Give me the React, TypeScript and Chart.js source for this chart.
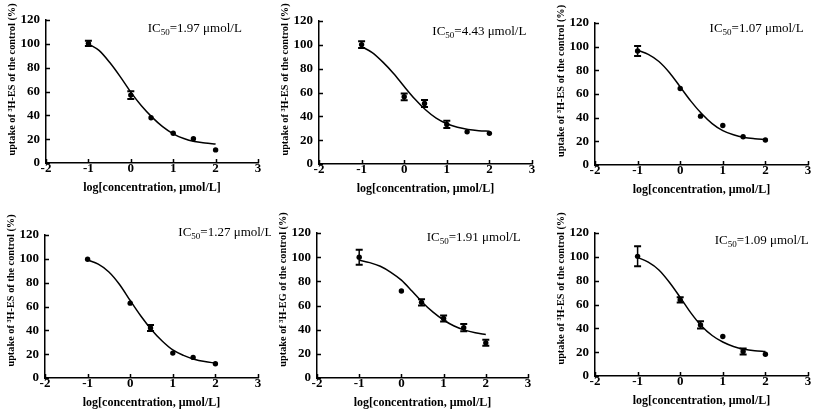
import React, { useEffect, useRef } from "react";
import { Chart, registerables } from "chart.js";

Chart.register(...registerables);

// ---- data ----
const xTicks = [-2, -1, 0, 1, 2, 3];
const yTicks = [0, 20, 40, 60, 80, 100, 120];
const doseLog = [-1, 0, 0.477, 1, 1.477, 2];
const curveLog = [-1, -0.75, -0.5, -0.25, 0, 0.25, 0.5, 0.75, 1, 1.25, 1.5, 1.75, 2];

const meanA = [100.4, 57, 38, 25, 20.3, 11];
const errA = [2.2, 3.2, 0, 0, 0, 0];
const fitA = [100, 94.5, 84.5, 72.5, 59.5, 48, 38.5, 30.5, 24.5, 20.5, 18, 16.8, 16];

const meanB = [100.2, 56.4, 50.8, 33.2, 27, 25.7];
const errB = [2.8, 2.8, 3, 3, 0, 0];
const fitB = [98.5, 93.5, 85.5, 76, 65, 54.5, 45.5, 38.5, 33.8, 30.8, 29, 28, 27.5];

const meanC = [96.4, 64.6, 41.3, 33.4, 23.9, 21.1];
const errC = [4.2, 0, 0, 0, 0, 0];
const fitC = [97, 93.5, 87.5, 78, 66, 54, 43.5, 35, 29, 25.5, 23.3, 22.2, 21.5];

const meanD = [99.6, 62.8, 41.9, 20.9, 17.3, 12];
const errD = [0, 0, 2.5, 0, 0, 0];
const fitD = [99, 95.5, 89, 78.5, 65, 52, 40.5, 31, 23.5, 19, 15.8, 13.8, 12.5];

const meanE = [100, 72, 62.6, 49.3, 41.6, 29.1];
const errE = [6.2, 0, 2.5, 2.5, 3, 2.5];
const fitE = [97.5, 95.5, 92.5, 87.5, 81, 72, 62.5, 54.5, 48, 43, 39.6, 37.4, 36];

const meanF = [100.4, 63.9, 42.9, 33.1, 20.5, 18.2];
const errF = [8.4, 2.2, 3, 0, 2.5, 0];
const fitF = [99.5, 95.5, 89, 78.5, 66, 53, 42, 34, 28.5, 24.8, 22.5, 21.2, 20.5];

const ic50Values = ["1.97", "4.43", "1.07", "1.27", "1.91", "1.09"];
const tracers = ["ES", "ES", "ES", "ES", "EG", "ES"];
const xTitle = "log[concentration, μmol/L]";

// ---- layout ----
const W = 271;
const H = 206;
const FONT = '"Liberation Serif", "Times New Roman", serif';

type Panel = {
  mean: number[];
  err: number[];
  fit: number[];
  ic50: string;
  tracer: string;
  left: number;
  top: number;
  area: { l: number; r: number; t: number; b: number };
  labelAt: { x: number; y: number };
  titleShift: number;
};

const panels: Panel[] = [
  { mean: meanA, err: errA, fit: fitA, ic50: ic50Values[0], tracer: tracers[0], left: 0, top: 0,
    area: { l: 46, r: 258, t: 20, b: 163 }, labelAt: { x: 0.4, y: 113 }, titleShift: -12 },
  { mean: meanB, err: errB, fit: fitB, ic50: ic50Values[1], tracer: tracers[1], left: 271, top: 0,
    area: { l: 48, r: 261, t: 21, b: 164 }, labelAt: { x: 0.66, y: 111 }, titleShift: -13 },
  { mean: meanC, err: errC, fit: fitC, ic50: ic50Values[2], tracer: tracers[2], left: 542, top: 0,
    area: { l: 53, r: 266, t: 23, b: 165 }, labelAt: { x: 0.69, y: 115 }, titleShift: -13 },
  { mean: meanD, err: errD, fit: fitD, ic50: ic50Values[3], tracer: tracers[3], left: 0, top: 206,
    area: { l: 45, r: 258, t: 29, b: 172 }, labelAt: { x: 1.13, y: 122 }, titleShift: -16 },
  { mean: meanE, err: errE, fit: fitE, ic50: ic50Values[4], tracer: tracers[4], left: 271, top: 206,
    area: { l: 46, r: 257, t: 27, b: 172 }, labelAt: { x: 0.6, y: 116 }, titleShift: -16 },
  { mean: meanF, err: errF, fit: fitF, ic50: ic50Values[5], tracer: tracers[5], left: 542, top: 206,
    area: { l: 53, r: 266, t: 27, b: 170 }, labelAt: { x: 0.81, y: 114 }, titleShift: -16 },
];

function makeDecor(p: Panel) {
  return {
    id: "decor",
    afterDatasetsDraw(chart: any) {
      const ctx = chart.ctx as CanvasRenderingContext2D;
      const xs = chart.scales.x;
      const ys = chart.scales.y;
      const ca = chart.chartArea;
      ctx.save();
      ctx.strokeStyle = "#000";
      ctx.fillStyle = "#000";
      // inward tick marks
      ctx.lineWidth = 1.5;
      ctx.beginPath();
      xTicks.forEach((v) => {
        const px = Math.round(xs.getPixelForValue(v)) + 0.5;
        ctx.moveTo(px, ca.bottom);
        ctx.lineTo(px, ca.bottom - 4);
      });
      yTicks.forEach((v) => {
        const py = Math.round(ys.getPixelForValue(v)) + 0.5;
        ctx.moveTo(ca.left, py);
        ctx.lineTo(ca.left + 4, py);
      });
      ctx.stroke();
      // error bars
      p.err.forEach((e, i) => {
        if (!e) return;
        const px = xs.getPixelForValue(doseLog[i]);
        const y1 = ys.getPixelForValue(p.mean[i] + e);
        const y2 = ys.getPixelForValue(p.mean[i] - e);
        ctx.lineWidth = 1.5;
        ctx.beginPath();
        ctx.moveTo(px, y1);
        ctx.lineTo(px, y2);
        ctx.stroke();
        ctx.lineWidth = 2;
        ctx.beginPath();
        ctx.moveTo(px - 3.5, y1);
        ctx.lineTo(px + 3.5, y1);
        ctx.moveTo(px - 3.5, y2);
        ctx.lineTo(px + 3.5, y2);
        ctx.stroke();
      });
      // IC50 annotation
      let tx = xs.getPixelForValue(p.labelAt.x);
      const ty = ys.getPixelForValue(p.labelAt.y);
      ctx.textBaseline = "middle";
      ctx.textAlign = "left";
      ctx.font = `13px ${FONT}`;
      ctx.fillText("IC", tx, ty);
      tx += ctx.measureText("IC").width;
      ctx.font = `9px ${FONT}`;
      ctx.fillText("50", tx, ty + 4);
      tx += ctx.measureText("50").width;
      ctx.font = `13px ${FONT}`;
      ctx.fillText(`=${p.ic50} μmol/L`, tx, ty);
      // x title
      ctx.font = `bold 12px ${FONT}`;
      ctx.textAlign = "center";
      ctx.fillText(xTitle, (ca.left + ca.right) / 2, ca.bottom + 25);
      // y title
      ctx.translate(ca.left - 34, (ca.top + ca.bottom) / 2 + p.titleShift);
      ctx.rotate(-Math.PI / 2);
      ctx.font = `bold 10.3px ${FONT}`;
      ctx.fillText(`uptake of ³H-${p.tracer} of the control (%)`, 0, 0);
      ctx.restore();
    },
  };
}

function PanelChart({ p }: { p: Panel }) {
  const ref = useRef<HTMLCanvasElement>(null);
  useEffect(() => {
    const tickFont = { family: FONT, size: 13, weight: "bold" as const };
    const chart = new Chart(ref.current!, {
      type: "scatter",
      data: {
        datasets: [
          {
            data: curveLog.map((x, i) => ({ x, y: p.fit[i] })),
            showLine: true,
            borderColor: "#000",
            borderWidth: 1.5,
            pointRadius: 0,
            cubicInterpolationMode: "monotone",
            fill: false,
          } as any,
          {
            data: doseLog.map((x, i) => ({ x, y: p.mean[i] })),
            showLine: false,
            pointRadius: 2.7,
            pointBackgroundColor: "#000",
            pointBorderColor: "#000",
            pointBorderWidth: 0,
          } as any,
        ],
      },
      options: {
        animation: false,
        responsive: false,
        maintainAspectRatio: false,
        devicePixelRatio: 1,
        events: [],
        layout: { padding: { left: 0, top: p.area.t, right: W - p.area.r, bottom: 0 } },
        plugins: { legend: { display: false }, tooltip: { enabled: false } },
        scales: {
          x: {
            type: "linear",
            min: -2,
            max: 3,
            afterBuildTicks: (s: any) => {
              s.ticks = xTicks.map((v) => ({ value: v }));
            },
            ticks: { font: tickFont, color: "#000", padding: -2, maxRotation: 0, autoSkip: false },
            grid: { display: false, drawTicks: false },
            border: { display: true, color: "#000", width: 1.5 },
            afterFit: (s: any) => {
              s.height = H - p.area.b;
            },
          },
          y: {
            type: "linear",
            min: 0,
            max: 120,
            afterBuildTicks: (s: any) => {
              s.ticks = yTicks.map((v) => ({ value: v }));
            },
            ticks: { font: tickFont, color: "#000", padding: 6, autoSkip: false },
            grid: { display: false, drawTicks: false },
            border: { display: true, color: "#000", width: 1.5 },
            afterFit: (s: any) => {
              s.width = p.area.l;
            },
          },
        },
      } as any,
      plugins: [makeDecor(p)],
    });
    return () => chart.destroy();
  }, [p]);
  return (
    <canvas
      ref={ref}
      width={W}
      height={H}
      style={{ position: "absolute", left: p.left, top: p.top, width: W, height: H }}
    />
  );
}

export default function App() {
  return (
    <div style={{ position: "fixed", left: 0, top: 0, width: 813, height: 412, background: "#fff" }}>
      {panels.map((p, i) => (
        <PanelChart key={i} p={p} />
      ))}
    </div>
  );
}
